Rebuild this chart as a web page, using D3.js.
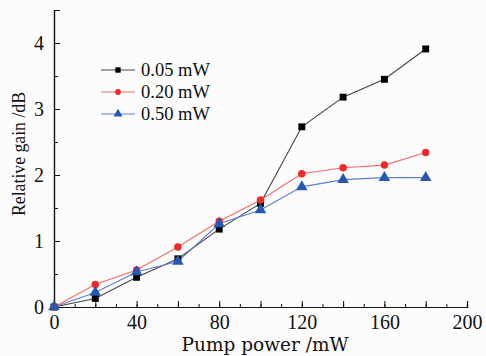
<!DOCTYPE html>
<html>
<head>
<meta charset="utf-8">
<script src="https://cdn.jsdelivr.net/npm/d3@7"></script>
<style>
	html, body { margin: 0; padding: 0; background: #fcfcfc; }
	svg { display: block; }
</style>
</head>
<body>
<script>
	'use strict';

	// pump power (mW)
	var pumpPower = [0, 20, 40, 60, 80, 100, 120, 140, 160, 180];

	// relative gain (dB) for each signal power
	var gain005 = [0, 0.13, 0.45, 0.73, 1.18, 1.57, 2.73, 3.18, 3.45, 3.91];
	var gain020 = [0, 0.34, 0.56, 0.91, 1.30, 1.62, 2.02, 2.11, 2.15, 2.34];
	var gain050 = [0, 0.22, 0.53, 0.69, 1.26, 1.47, 1.82, 1.93, 1.96, 1.96];

	var seriesLabels = ["0.05 mW", "0.20 mW", "0.50 mW"];
	var xTicks = [0, 40, 80, 120, 160, 200];
	var yTicks = [0, 1, 2, 3, 4];

	var xAxisLabel = "Pump power /mW",
		yAxisLabel = "Relative gain /dB";

	var serifFont = "'Liberation Serif', 'Times New Roman', serif",
		wideSerifFont = "'DejaVu Serif', 'Liberation Serif', serif";

	var series = [
		{ name: seriesLabels[0], values: gain005, line: "#444", fill: "#000", symbol: d3.symbolSquare, size: 48 },
		{ name: seriesLabels[1], values: gain020, line: "#f26a6a", fill: "#ee2a2a", symbol: d3.symbolCircle, size: 44 },
		{ name: seriesLabels[2], values: gain050, line: "#5f7fcc", fill: "#2757b0", symbol: d3.symbolTriangle, size: 58 }
	];

	var W = 486, H = 356;
	var margin = { top: 10, right: 20, bottom: 49, left: 54 },
		width = W - margin.left - margin.right,
		height = H - margin.top - margin.bottom;

	var svg = d3.select("body").append("svg")
		.attr("width", W)
		.attr("height", H)
		.append("g")
		.attr("transform", "translate(" + margin.left + "," + margin.top + ")");

	var x = d3.scaleLinear().domain([0, 200]).range([0, 413]);
	var y = d3.scaleLinear().domain([0, 4.5]).range([height, 0]);

	// minor ticks first, then major ticks with labels
	var xMinor = d3.axisBottom(x).tickValues(d3.range(0, 201, 10)).tickSize(-3).tickFormat("");
	var xMajor = d3.axisBottom(x).tickValues(d3.range(0, 201, 20)).tickSize(-6).tickFormat(function(d) {
		return xTicks.indexOf(d) >= 0 ? d : "";
	});

	svg.append("g").attr("class", "axis").attr("transform", "translate(0," + height + ")").call(xMinor);
	var xg = svg.append("g").attr("class", "axis").attr("transform", "translate(0," + height + ")").call(xMajor);
	xg.selectAll("text").attr("y", 8).attr("dy", "0.71em");

	var yMinor = d3.axisLeft(y).tickValues(d3.range(0, 4.51, 0.5)).tickSize(-4).tickFormat("");
	var yMajor = d3.axisLeft(y).tickValues(yTicks).tickSize(-6).tickFormat(d3.format("d"));

	svg.append("g").attr("class", "axis").call(yMinor);
	var yg = svg.append("g").attr("class", "axis").call(yMajor);
	yg.selectAll("text").attr("x", -10);

	svg.selectAll(".axis").attr("font-family", null).attr("font-size", null);
	svg.selectAll(".axis path").attr("stroke", "#111").attr("stroke-width", 1.2);
	svg.selectAll(".axis line").attr("stroke", "#111").attr("stroke-width", 1);
	svg.selectAll(".axis text")
		.style("font-family", serifFont)
		.style("font-size", "20px")
		.style("fill", "#111");

	// axis labels
	svg.append("text")
		.attr("text-anchor", "middle")
		.attr("x", 211)
		.attr("y", 341)
		.style("font-family", wideSerifFont)
		.style("font-size", "18.5px")
		.style("fill", "#111")
		.text(xAxisLabel);

	// the y label in the source is a bit condensed, so squeeze it to its length
	svg.append("text")
		.attr("text-anchor", "middle")
		.attr("transform", "translate(" + (-29) + "," + 144 + ")rotate(-90)")
		.attr("textLength", 124)
		.attr("lengthAdjust", "spacingAndGlyphs")
		.style("font-family", serifFont)
		.style("font-size", "19.5px")
		.style("fill", "#111")
		.text(yAxisLabel);

	// lines and markers
	var line = d3.line()
		.x(function(d, i) { return x(pumpPower[i]); })
		.y(function(d) { return y(d); });

	series.forEach(function(s) {
		svg.append("path")
			.datum(s.values)
			.attr("fill", "none")
			.attr("stroke", s.line)
			.attr("stroke-width", 1.1)
			.attr("d", line);
	});

	series.forEach(function(s) {
		svg.selectAll(null)
			.data(s.values)
			.enter().append("path")
			.attr("transform", function(d, i) { return "translate(" + x(pumpPower[i]) + "," + y(d) + ")"; })
			.attr("d", d3.symbol().type(s.symbol).size(s.size))
			.attr("fill", s.fill);
	});

	// legend
	var legend = svg.append("g").attr("transform", "translate(47,60)");
	series.forEach(function(s, i) {
		var row = legend.append("g").attr("transform", "translate(0," + (i * 22) + ")");
		row.append("line")
			.attr("x1", 0).attr("x2", 34)
			.attr("stroke", s.line).attr("stroke-width", 1.1);
		row.append("path")
			.attr("transform", "translate(17,0)")
			.attr("d", d3.symbol().type(s.symbol).size(s.size * 0.6))
			.attr("fill", s.fill);
		row.append("text")
			.attr("x", 40)
			.attr("dy", "0.35em")
			.style("font-family", serifFont)
			.style("font-size", "18.5px")
			.style("fill", "#111")
			.text(s.name);
	});
</script>
</body>
</html>
